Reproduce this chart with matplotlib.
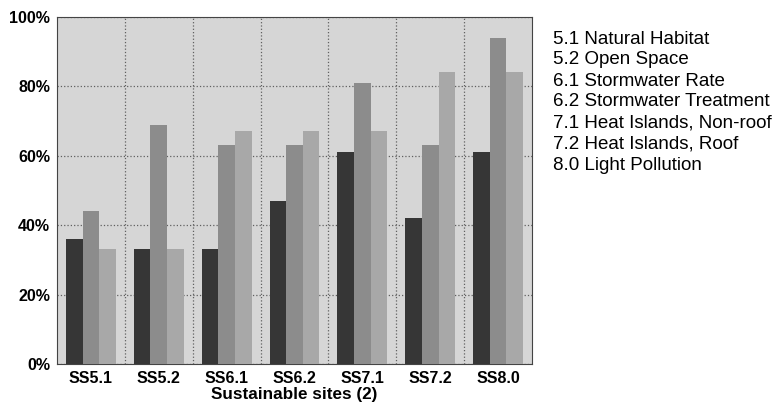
import numpy as np
import matplotlib.pyplot as plt

plt.rcParams['font.family'] = ['Liberation Sans', 'DejaVu Sans']

# Credits and their legend names
credits = ['SS5.1', 'SS5.2', 'SS6.1', 'SS6.2', 'SS7.1', 'SS7.2', 'SS8.0']
credit_names = ['5.1 Natural Habitat', '5.2 Open Space', '6.1 Stormwater Rate',
                '6.2 Stormwater Treatment', '7.1 Heat Islands, Non-roof',
                '7.2 Heat Islands, Roof', '8.0 Light Pollution']

# Three unnamed series (percent)
series_dark = [36, 33, 33, 47, 61, 42, 61]
series_mid = [44, 69, 63, 63, 81, 63, 94]
series_light = [33, 33, 67, 67, 67, 84, 84]

fig = plt.figure(figsize=(7.78, 4.07), dpi=100)
ax = fig.add_axes([0.0733, 0.1057, 0.6105, 0.8526])
ax.set_facecolor('#d6d6d6')

x = np.arange(len(credits))
w = 0.245
ax.bar(x - w, series_dark, w, color='#363636', zorder=3)
ax.bar(x, series_mid, w, color='#8c8c8c', zorder=3)
ax.bar(x + w, series_light, w, color='#a8a8a8', zorder=3)

ax.set_xlim(-0.5, len(credits) - 0.5)
ax.set_ylim(0, 100)
ax.set_yticks(range(0, 101, 20))
ax.set_yticklabels([f'{v}%' for v in range(0, 101, 20)], fontsize=11.5, fontweight='bold')
ax.set_xticks(x)
ax.set_xticklabels(credits, fontsize=11.5, fontweight='bold')
ax.tick_params(length=0, pad=5)

# group separators and horizontal grid
ax.set_xticks(np.arange(0.5, len(credits) - 0.5), minor=True)
ax.tick_params(which='minor', length=0)
ax.grid(True, which='minor', axis='x', color='#606060', linestyle=':', linewidth=0.9, zorder=1)
ax.grid(True, which='major', axis='y', color='#606060', linestyle=':', linewidth=0.9, zorder=1)

for s in ax.spines.values():
    s.set_color('#444444')
    s.set_linewidth(0.8)

ax.set_xlabel('Sustainable sites (2)', fontsize=12.3, fontweight='bold', labelpad=1)

# text-only legend on the right
for i, name in enumerate(credit_names):
    fig.text(0.711, 1 - (39 + 21 * i) / 407, name, fontsize=13.5, va='center', ha='left')

fig.savefig('out.png', dpi=100)
